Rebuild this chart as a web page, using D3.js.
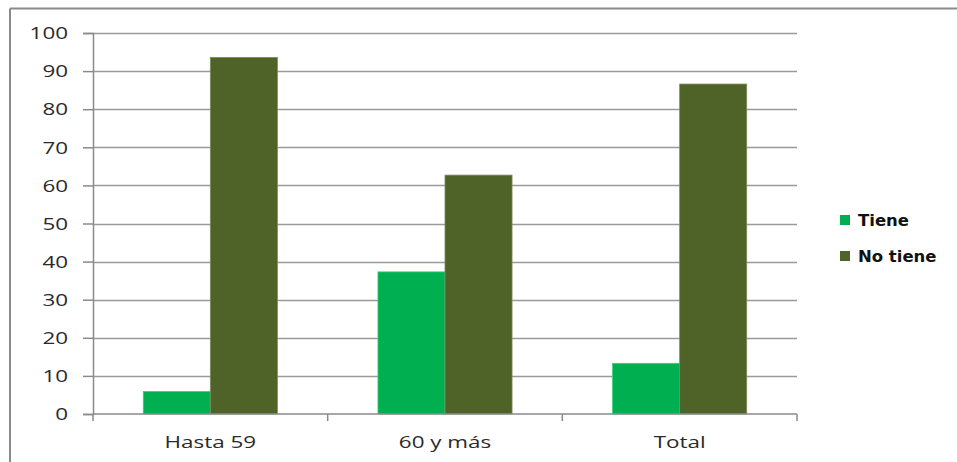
<!DOCTYPE html>
<html><head><meta charset="utf-8">
<script src="https://cdn.jsdelivr.net/npm/d3@7"></script>
<style>html,body{margin:0;padding:0;background:#fff;}svg{display:block;}</style>
</head><body>
<svg id="chart" width="957" height="462"></svg>
<script>
const categories = ["Hasta 59", "60 y más", "Total"];
const seriesNames = ["Tiene", "No tiene"];
const tiene = [5.9, 37.3, 13.3];
const noTiene = [93.6, 62.7, 86.6];
const yTicks = [0, 10, 20, 30, 40, 50, 60, 70, 80, 90, 100];
const colors = ["#00B050", "#4F6228"];

const svg = d3.select("#chart");
const W = 957, H = 462;
const m = {left: 93, top: 33, right: 797, bottom: 414};
const SX = 1.4;
const FS = 16;

// frame
svg.append("line").attr("x1", 10).attr("x2", W).attr("y1", 8.5).attr("y2", 8.5).attr("stroke", "#8a8a8a").attr("stroke-width", 2);
svg.append("line").attr("x1", 10).attr("x2", 10).attr("y1", 8.5).attr("y2", H).attr("stroke", "#8a8a8a").attr("stroke-width", 2);

const x0 = d3.scaleBand().domain(categories).range([m.left, m.right]).paddingInner(0).paddingOuter(0);
const x1 = d3.scaleBand().domain(seriesNames).range([0, x0.bandwidth()]).paddingInner(0).paddingOuter(0.75);
const y = d3.scaleLinear().domain([0, 100]).range([m.bottom, m.top]);

// gridlines
svg.append("g").selectAll("line").data(yTicks.filter(d => d > 0)).join("line")
  .attr("x1", m.left).attr("x2", m.right)
  .attr("y1", d => Math.round(y(d)) + 0.5).attr("y2", d => Math.round(y(d)) + 0.5)
  .attr("stroke", "#9a9a9a").attr("stroke-width", 1.5);

// bars
const data = categories.map((c, i) => ({cat: c, vals: [tiene[i], noTiene[i]]}));
const g = svg.append("g");
data.forEach(d => {
  d.vals.forEach((v, j) => {
    g.append("rect")
      .attr("x", x0(d.cat) + x1(seriesNames[j]))
      .attr("width", x1.bandwidth())
      .attr("y", y(v))
      .attr("height", y(0) - y(v))
      .attr("fill", colors[j])
      .attr("stroke", j === 1 ? "#7d8c5e" : "#3ccc7a")
      .attr("stroke-width", 0.8);
  });
});

// y axis
const yAxis = d3.axisLeft(y).tickValues(yTicks).tickSize(10).tickPadding(15).tickFormat(d3.format("d"));
const ya = svg.append("g").attr("transform", `translate(${m.left},0)`).call(yAxis);
ya.select(".domain").attr("stroke", "#8a8a8a").attr("stroke-width", 1.5);
ya.selectAll(".tick line").attr("stroke", "#8a8a8a").attr("stroke-width", 1.5);
ya.selectAll(".tick text").attr("font-family", "'Open Sans', sans-serif").attr("font-size", FS)
  .attr("fill", "#2a2a2a").attr("x", 0).attr("dy", "0.36em").attr("text-anchor", "end")
  .attr("transform", `translate(${68 - m.left},0) scale(${SX},1)`);

// x axis
const xa = svg.append("g").attr("transform", `translate(0,${m.bottom})`);
xa.append("line").attr("x1", m.left).attr("x2", m.right).attr("y1", 0).attr("y2", 0).attr("stroke", "#8a8a8a").attr("stroke-width", 1.5);
const bounds = [m.left].concat(categories.map(c => x0(c) + x0.bandwidth()));
xa.selectAll("line.tk").data(bounds).join("line").attr("class", "tk")
  .attr("x1", d => d).attr("x2", d => d).attr("y1", 0).attr("y2", 7)
  .attr("stroke", "#8a8a8a").attr("stroke-width", 1.5);
xa.selectAll("text").data(categories).join("text")
  .attr("transform", d => `translate(${x0(d) + x0.bandwidth() / 2},34) scale(${SX},1)`)
  .attr("text-anchor", "middle")
  .attr("font-family", "'Open Sans', sans-serif").attr("font-size", FS).attr("fill", "#2a2a2a")
  .text(d => d);

// legend
const leg = svg.append("g");
seriesNames.forEach((s, i) => {
  const yy = 220 + i * 36;
  leg.append("rect").attr("x", 840).attr("y", yy - 5).attr("width", 10).attr("height", 10).attr("fill", colors[i]);
  leg.append("text").attr("transform", `translate(858,${yy + 6}) scale(1.1,1)`)
    .attr("font-family", "'DejaVu Sans', sans-serif").attr("font-weight", "bold").attr("font-size", 15)
    .attr("fill", "#111").text(s);
});
</script>
</body></html>
